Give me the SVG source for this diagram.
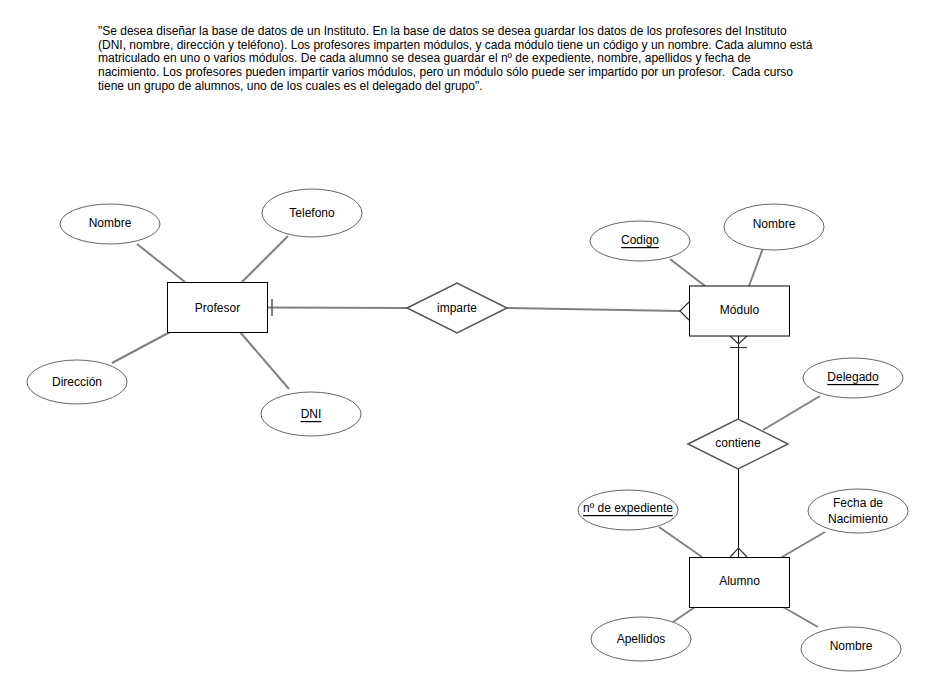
<svg xmlns="http://www.w3.org/2000/svg" width="935" height="698" viewBox="0 0 935 698">
  <style>
    .para { font-family: "Liberation Sans", Arial, sans-serif; font-size: 12px; fill: #000; white-space: pre; }
    .lbl { font-family: "Liberation Sans", Arial, sans-serif; font-size: 12px; fill: #000; text-anchor: middle; dominant-baseline: central; }
    .key { text-decoration: underline; }
    .entity { fill: #fff; stroke: #000; stroke-width: 1; }
    .attr { fill: #fff; stroke: #666; stroke-width: 1; }
    .rel { fill: #fff; stroke: #555; stroke-width: 1.5; }
    .link { stroke: #808080; stroke-width: 2; fill: none; }
    .rlink { stroke: #000; stroke-width: 1; fill: none; }
    .foot { stroke: #333; stroke-width: 1.2; fill: none; }
  </style>

  <!-- problem statement -->
  <g id="statement">
    <text class="para" x="98" y="35">"Se desea diseñar la base de datos de un Instituto. En la base de datos se desea guardar los datos de los profesores del Instituto</text>
    <text class="para" x="98" y="49">(DNI, nombre, dirección y teléfono). Los profesores imparten módulos, y cada módulo tiene un código y un nombre. Cada alumno está</text>
    <text class="para" x="98" y="62">matriculado en uno o varios módulos. De cada alumno se desea guardar el nº de expediente, nombre, apellidos y fecha de</text>
    <text class="para" x="98" y="76">nacimiento. Los profesores pueden impartir varios módulos, pero un módulo sólo puede ser impartido por un profesor.  Cada curso</text>
    <text class="para" x="98" y="90">tiene un grupo de alumnos, uno de los cuales es el delegado del grupo".</text>
  </g>

  <!-- connectors -->
  <g id="connectors">
    <!-- Profesor attributes -->
    <line class="link" x1="137" y1="244" x2="185" y2="282"/>
    <line class="link" x1="288" y1="236" x2="242" y2="282"/>
    <line class="link" x1="112" y1="363" x2="170" y2="332"/>
    <line class="link" x1="240" y1="332" x2="289" y2="389"/>
    <!-- Profesor - imparte (one) -->
    <line class="link" x1="267" y1="307.5" x2="407" y2="308"/>
    <line class="foot" x1="272" y1="299" x2="272" y2="316"/>
    <!-- imparte - Módulo (many) -->
    <line class="link" x1="507" y1="308" x2="680" y2="311"/>
    <path class="foot" d="M689,302 L680,311 L689,320"/>
    <!-- Módulo attributes -->
    <line class="link" x1="670" y1="259" x2="705" y2="286"/>
    <line class="link" x1="763" y1="248" x2="749" y2="286"/>
    <!-- Módulo - contiene (one or many) -->
    <line class="rlink" x1="738.5" y1="336" x2="738.5" y2="419"/>
    <path class="foot" d="M730,336 L738.5,344 L747,336"/>
    <line class="foot" x1="730" y1="347.5" x2="747" y2="347.5"/>
    <!-- Delegado - contiene -->
    <line class="link" x1="820" y1="396" x2="763" y2="430"/>
    <!-- contiene - Alumno (many) -->
    <line class="rlink" x1="738.5" y1="469" x2="738.5" y2="557"/>
    <path class="foot" d="M730,557 L738.5,548 L747,557"/>
    <!-- Alumno attributes -->
    <line class="link" x1="659" y1="527" x2="702" y2="557"/>
    <line class="link" x1="825" y1="532" x2="782" y2="557"/>
    <line class="link" x1="673" y1="622" x2="695" y2="607"/>
    <line class="link" x1="818" y1="627" x2="783" y2="607"/>
  </g>

  <!-- Profesor entity and attributes -->
  <g id="profesor">
    <rect class="entity" x="167.5" y="282.5" width="100" height="50"/>
    <text class="lbl" x="217.5" y="307.5">Profesor</text>
  </g>
  <g id="profesor-nombre">
    <ellipse class="attr" cx="110" cy="224" rx="50" ry="20"/>
    <text class="lbl" x="110" y="223">Nombre</text>
  </g>
  <g id="profesor-telefono">
    <ellipse class="attr" cx="312" cy="213" rx="50" ry="24"/>
    <text class="lbl" x="312" y="213">Telefono</text>
  </g>
  <g id="profesor-direccion">
    <ellipse class="attr" cx="77" cy="382" rx="50" ry="22"/>
    <text class="lbl" x="77" y="382">Dirección</text>
  </g>
  <g id="profesor-dni">
    <ellipse class="attr" cx="311" cy="414" rx="50" ry="22"/>
    <text class="lbl key" x="311" y="414">DNI</text>
  </g>

  <!-- imparte relationship -->
  <g id="imparte">
    <polygon class="rel" points="407,308 457,283 507,308 457,333"/>
    <text class="lbl" x="457" y="308">imparte</text>
  </g>

  <!-- Módulo entity and attributes -->
  <g id="modulo">
    <rect class="entity" x="689.5" y="286" width="100" height="50"/>
    <text class="lbl" x="739.5" y="310">Módulo</text>
  </g>
  <g id="modulo-codigo">
    <ellipse class="attr" cx="640" cy="241" rx="50" ry="20"/>
    <text class="lbl key" x="640" y="240">Codigo</text>
  </g>
  <g id="modulo-nombre">
    <ellipse class="attr" cx="774" cy="227" rx="50" ry="23"/>
    <text class="lbl" x="774" y="224">Nombre</text>
  </g>

  <!-- contiene relationship -->
  <g id="contiene">
    <polygon class="rel" points="688,444 738,419 788,444 738,469"/>
    <text class="lbl" x="738" y="443">contiene</text>
  </g>
  <g id="contiene-delegado">
    <ellipse class="attr" cx="853" cy="378" rx="50" ry="20"/>
    <text class="lbl key" x="853" y="377">Delegado</text>
  </g>

  <!-- Alumno entity and attributes -->
  <g id="alumno">
    <rect class="entity" x="689.5" y="557.5" width="100" height="50"/>
    <text class="lbl" x="739.5" y="581">Alumno</text>
  </g>
  <g id="alumno-expediente">
    <ellipse class="attr" cx="628" cy="510" rx="50" ry="20"/>
    <text class="lbl key" x="628" y="508">nº de expediente</text>
  </g>
  <g id="alumno-fecha">
    <ellipse class="attr" cx="858" cy="511" rx="50" ry="22"/>
    <text class="lbl" x="858" y="503">Fecha de</text>
    <text class="lbl" x="858" y="519">Nacimiento</text>
  </g>
  <g id="alumno-apellidos">
    <ellipse class="attr" cx="641" cy="639" rx="50" ry="22"/>
    <text class="lbl" x="641" y="639">Apellidos</text>
  </g>
  <g id="alumno-nombre">
    <ellipse class="attr" cx="851" cy="649" rx="50" ry="22"/>
    <text class="lbl" x="851" y="646">Nombre</text>
  </g>
</svg>
